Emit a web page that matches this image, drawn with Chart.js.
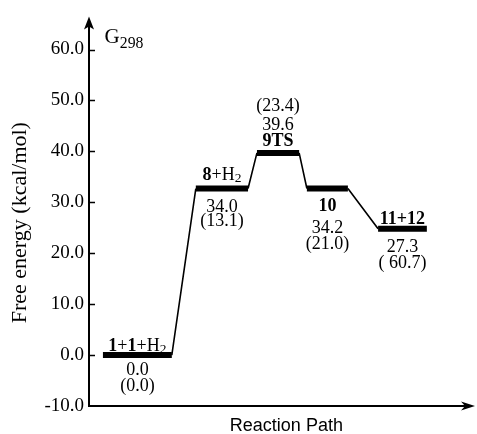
<!DOCTYPE html>
<html>
<head>
<meta charset="utf-8">
<script src="https://cdn.jsdelivr.net/npm/chart.js@4.4.0/dist/chart.umd.min.js"></script>
<style>
  html, body { margin: 0; padding: 0; background: #fff; }
  #wrap { width: 477px; height: 434px; position: relative; }
</style>
</head>
<body>
<div id="wrap"><canvas id="chart"></canvas></div>
<script>
// Free energy profile G298 (kcal/mol) along the reaction path
const states = ['1+1+H2', '8+H2', '9TS', '10', '11+12']
// rich text pieces of the state names: 'b' = bold, 's' = subscript
const stateNames = [
  [['1', 'b'], ['+'], ['1', 'b'], ['+H'], ['2', 's']],
  [['8', 'b'], ['+H'], ['2', 's']],
  [['9TS', 'b']],
  [['10', 'b']],
  [['11+12', 'b']]
]
const levels = [0.0, 32.7, 39.7, 32.7, 24.8]
const gValues = ['0.0', '34.0', '39.6', '34.2', '27.3']
const hValues = ['(0.0)', '(13.1)', '(23.4)', '(21.0)', '( 60.7)']
const pathStart = [3.6, 27.6, 43.4, 56.3, 74.7]
const pathEnd = [21.4, 41.1, 54.3, 66.9, 87.3]
const yTicks = [-10, 0, 10, 20, 30, 40, 50, 60]

// where the texts sit around each bar (px from bar centre line)
const labelPos = [
  { name: -10, g: 14, h: 30 },
  { name: -15, g: 17, h: 31 },
  { name: -13, g: -29, h: -48 },
  { name: 16, g: 38, h: 54 },
  { name: -11, g: 17, h: 33 }
]

const SERIF = "'Liberation Serif', 'Times New Roman', serif"

const levelData = []
const linkData = []
states.forEach((s, i) => {
  levelData.push({ x: pathStart[i], y: levels[i] }, { x: pathEnd[i], y: levels[i] }, { x: pathEnd[i], y: null })
  if (i < states.length - 1) {
    linkData.push({ x: pathEnd[i], y: levels[i] }, { x: pathStart[i + 1], y: levels[i + 1] }, { x: pathStart[i + 1], y: null })
  }
})

function drawRich(ctx, parts, cx, cy, size, subDrop = 0.12) {
  const fontOf = p => (p[1] === 'b' ? 'bold ' : '') + (p[1] === 's' ? size * 0.75 : size) + 'px ' + SERIF
  let w = 0
  parts.forEach(p => { ctx.font = fontOf(p); w += ctx.measureText(p[0]).width })
  let xx = cx - w / 2
  const base = cy + size * 0.34
  ctx.textAlign = 'left'
  ctx.textBaseline = 'alphabetic'
  parts.forEach(p => {
    ctx.font = fontOf(p)
    ctx.fillText(p[0], xx, p[1] === 's' ? base + size * subDrop : base)
    xx += ctx.measureText(p[0]).width
  })
}

const overlay = {
  id: 'overlay',
  afterDraw(chart) {
    const { ctx, chartArea: a, scales: { x, y } } = chart
    const yb = y.getPixelForValue(-10)
    ctx.save()
    ctx.strokeStyle = '#000'
    ctx.fillStyle = '#000'

    // axes with arrow heads
    ctx.lineWidth = 2
    ctx.beginPath()
    ctx.moveTo(a.left, yb)
    ctx.lineTo(a.left, a.top + 6)
    ctx.moveTo(a.left - 1, yb)
    ctx.lineTo(a.right - 8, yb)
    ctx.stroke()
    ctx.beginPath()
    ctx.moveTo(a.left, a.top)
    ctx.lineTo(a.left - 5, a.top + 13)
    ctx.lineTo(a.left, a.top + 10)
    ctx.lineTo(a.left + 5, a.top + 13)
    ctx.closePath()
    ctx.fill()
    ctx.beginPath()
    ctx.moveTo(a.right - 1, yb)
    ctx.lineTo(a.right - 15, yb - 4.5)
    ctx.lineTo(a.right - 11, yb)
    ctx.lineTo(a.right - 15, yb + 4.5)
    ctx.closePath()
    ctx.fill()

    // inner tick marks
    ctx.lineWidth = 1.5
    ctx.beginPath()
    yTicks.slice(1).forEach(v => {
      const py = Math.round(y.getPixelForValue(v)) + 0.5
      ctx.moveTo(a.left, py)
      ctx.lineTo(a.left + 6, py)
    })
    ctx.stroke()

    // G298
    drawRich(ctx, [['G'], ['298', 's']], a.left + 35, 36, 21, 0.22)

    // axis titles
    ctx.font = '18px ' + "'Liberation Sans', Arial, sans-serif"
    ctx.textAlign = 'center'
    ctx.textBaseline = 'alphabetic'
    ctx.fillText('Reaction Path', x.getPixelForValue(51), 431)
    ctx.save()
    ctx.translate(26, y.getPixelForValue(26))
    ctx.rotate(-Math.PI / 2)
    ctx.font = '22px ' + SERIF
    ctx.fillText('Free energy (kcal/mol)', 0, 0)
    ctx.restore()

    // state labels and values
    states.forEach((s, i) => {
      const cx = (x.getPixelForValue(pathStart[i]) + x.getPixelForValue(pathEnd[i])) / 2
      const cy = y.getPixelForValue(levels[i])
      const pos = labelPos[i]
      drawRich(ctx, stateNames[i], cx, cy + pos.name, 18)
      drawRich(ctx, [[gValues[i]]], cx, cy + pos.g, 18)
      drawRich(ctx, [[hValues[i]]], cx, cy + pos.h, 18)
    })
    ctx.restore()
  }
}

new Chart(document.getElementById('chart'), {
  type: 'line',
  data: {
    datasets: [
      {
        label: 'levels',
        data: levelData,
        borderColor: '#000',
        borderWidth: 6,
        borderCapStyle: 'butt',
        pointRadius: 0,
        spanGaps: false
      },
      {
        label: 'path',
        data: linkData,
        borderColor: '#000',
        borderWidth: 1.6,
        pointRadius: 0,
        spanGaps: false
      }
    ]
  },
  options: {
    responsive: true,
    maintainAspectRatio: false,
    animation: false,
    layout: { autoPadding: false, padding: { top: 12, right: 1, bottom: 28, left: 0 } },
    plugins: {
      legend: { display: false },
      tooltip: { enabled: false }
    },
    scales: {
      x: {
        type: 'linear',
        min: 0,
        max: 100,
        display: false
      },
      y: {
        min: -10,
        max: 66.5,
        afterFit: scale => { scale.width = 89 },
        afterBuildTicks: scale => { scale.ticks = yTicks.map(v => ({ value: v })) },
        grid: { display: false, drawTicks: false },
        border: { display: false },
        ticks: {
          color: '#000',
          padding: 5,
          font: { family: SERIF, size: 19 },
          callback: v => v.toFixed(1)
        }
      }
    }
  },
  plugins: [overlay]
})
</script>
</body>
</html>
